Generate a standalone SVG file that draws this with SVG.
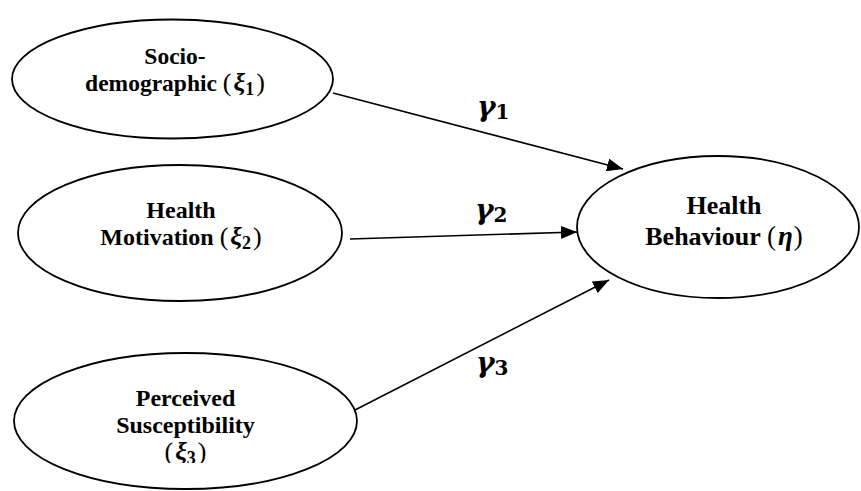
<svg xmlns="http://www.w3.org/2000/svg" width="861" height="491" viewBox="0 0 861 491">
<style>
.node ellipse{fill:#fff;stroke:#000;stroke-width:1.8}
.lbl{font-family:"Liberation Serif","Times New Roman",serif;font-weight:bold;fill:#000;text-anchor:middle}
.m{font-weight:normal;font-size:26px}
.xi{font-style:italic;font-weight:bold;font-size:26px}
.sub{font-size:18px;font-weight:bold}
.g{font-family:"DejaVu Serif","Liberation Serif",serif;font-weight:bold;font-style:italic;font-size:28px;fill:#000}
.gs{font-style:normal;font-size:20px}
#connectors line{stroke:#000;stroke-width:1.6}
</style>
<defs>
<marker id="ah" viewBox="0 0 10 10" refX="10" refY="5" markerWidth="16" markerHeight="13" markerUnits="userSpaceOnUse" orient="auto" preserveAspectRatio="none">
<path d="M0,0 L10,5 L0,10 Z" fill="#000"/>
</marker>
<clipPath id="c3"><rect x="0" y="0" width="861" height="463"/></clipPath>
</defs>
<rect width="861" height="491" fill="#fff"/>
<g id="connectors">
<line x1="333" y1="93" x2="623" y2="169" marker-end="url(#ah)"/>
<line x1="350" y1="239" x2="577" y2="232" marker-end="url(#ah)"/>
<line x1="355" y1="410" x2="609" y2="280" marker-end="url(#ah)"/>
</g>
<g id="n1" class="node">
<ellipse cx="172.5" cy="79" rx="160.5" ry="59.5"/>
<text class="lbl" style="font-size:23.5px" x="175" y="64">Socio-</text>
<text class="lbl" style="font-size:23.5px" x="175" y="91">demographic <tspan class="m">(</tspan><tspan class="xi" dx="2">ξ</tspan><tspan class="sub" dy="4">1</tspan><tspan class="m" dy="-4" dx="2">)</tspan></text>
</g>
<g id="n2" class="node">
<ellipse cx="180" cy="233" rx="162" ry="68"/>
<text class="lbl" style="font-size:24px" x="181" y="218">Health</text>
<text class="lbl" style="font-size:24px" x="181" y="245">Motivation <tspan class="m">(</tspan><tspan class="xi" dx="2">ξ</tspan><tspan class="sub" dy="4">2</tspan><tspan class="m" dy="-4" dx="2">)</tspan></text>
</g>
<g id="n3" class="node">
<ellipse cx="185.5" cy="421" rx="171.5" ry="68"/>
<g clip-path="url(#c3)">
<text class="lbl" style="font-size:24px" x="185.5" y="406">Perceived</text>
<text class="lbl" style="font-size:24px" x="185.5" y="433">Susceptibility</text>
<text class="lbl" style="font-size:24px" x="185.5" y="460"><tspan class="m">(</tspan><tspan class="xi" dx="2">ξ</tspan><tspan class="sub" dy="4">3</tspan><tspan class="m" dy="-4" dx="2">)</tspan></text>
</g>
</g>
<g id="n4" class="node">
<ellipse cx="718" cy="227" rx="141" ry="71"/>
<text class="lbl" style="font-size:26px" x="724" y="214">Health</text>
<text class="lbl" style="font-size:26px" x="724" y="245">Behaviour <tspan class="m" style="font-size:27px">(</tspan><tspan class="xi" dx="2" style="font-size:27px">η</tspan><tspan class="m" dx="1" style="font-size:27px">)</tspan></text>
</g>
<g id="labels">
<text class="g" x="477" y="116">γ<tspan class="gs" dy="3">1</tspan></text>
<text class="g" x="475" y="219">γ<tspan class="gs" dy="3">2</tspan></text>
<text class="g" x="476" y="372">γ<tspan class="gs" dy="3">3</tspan></text>
</g>
</svg>
